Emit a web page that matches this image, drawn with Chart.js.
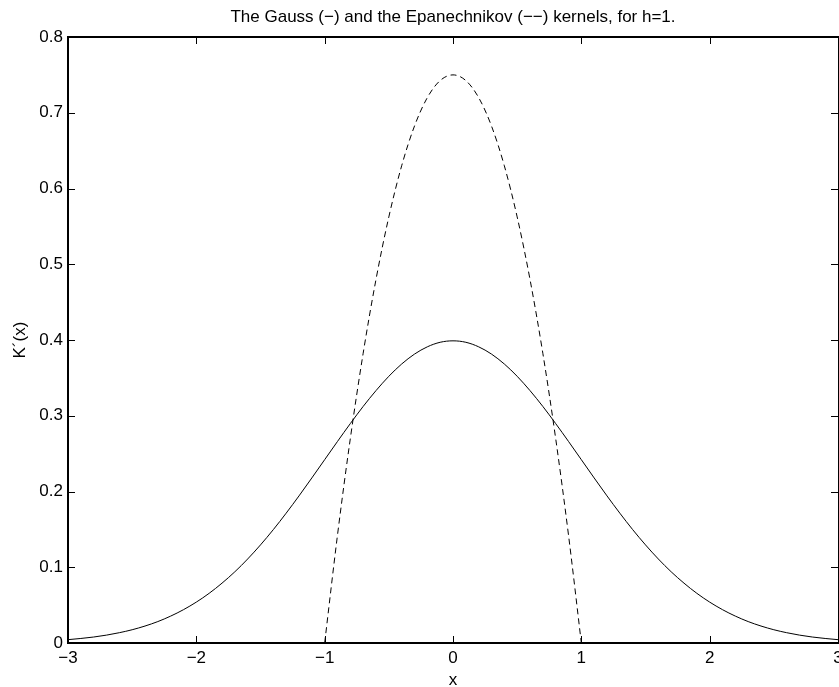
<!DOCTYPE html>
<html>
<head>
<meta charset="utf-8">
<script src="https://cdn.jsdelivr.net/npm/chart.js@4/dist/chart.umd.min.js"></script>
<style>
html,body{margin:0;padding:0;background:#fff;}
#wrap{width:839px;height:687px;position:relative;}
</style>
</head>
<body>
<div id="wrap"><canvas id="c" width="839" height="687"></canvas></div>
<script>
const titleText = 'The Gauss (\u2212) and the Epanechnikov (\u2212\u2212) kernels, for h=1.';
const xAxisLabel = 'x';
const yAxisLabel = 'K\u00b4(x)';
const xTicks = [-3, -2, -1, 0, 1, 2, 3];
const yTicks = [0, 0.1, 0.2, 0.3, 0.4, 0.5, 0.6, 0.7, 0.8];

const gaussX = [-3.0,-2.9,-2.8,-2.7,-2.6,-2.5,-2.4,-2.3,-2.2,-2.1,-2.0,-1.9,-1.8,-1.7,-1.6,-1.5,-1.4,-1.3,-1.2,-1.1,-1.0,-0.9,-0.8,-0.7,-0.6,-0.5,-0.4,-0.3,-0.2,-0.1,0.0,0.1,0.2,0.3,0.4,0.5,0.6,0.7,0.8,0.9,1.0,1.1,1.2,1.3,1.4,1.5,1.6,1.7,1.8,1.9,2.0,2.1,2.2,2.3,2.4,2.5,2.6,2.7,2.8,2.9,3.0];
const gaussY = [0.0044,0.0060,0.0079,0.0104,0.0136,0.0175,0.0224,0.0283,0.0355,0.0440,0.0540,0.0656,0.0790,0.0940,0.1109,0.1295,0.1497,0.1714,0.1942,0.2179,0.2420,0.2661,0.2897,0.3123,0.3332,0.3521,0.3683,0.3814,0.3910,0.3970,0.3989,0.3970,0.3910,0.3814,0.3683,0.3521,0.3332,0.3123,0.2897,0.2661,0.2420,0.2179,0.1942,0.1714,0.1497,0.1295,0.1109,0.0940,0.0790,0.0656,0.0540,0.0440,0.0355,0.0283,0.0224,0.0175,0.0136,0.0104,0.0079,0.0060,0.0044];

const epanX = [-1.0,-0.9,-0.8,-0.7,-0.6,-0.5,-0.4,-0.3,-0.2,-0.1,0.0,0.1,0.2,0.3,0.4,0.5,0.6,0.7,0.8,0.9,1.0];
const epanY = [0,0.1425,0.27,0.3825,0.48,0.5625,0.63,0.6825,0.72,0.7425,0.75,0.7425,0.72,0.6825,0.63,0.5625,0.48,0.3825,0.27,0.1425,0];

const FAMILY = '"Liberation Sans", Arial, Helvetica, sans-serif';
const FONT = {family: FAMILY, size: 17};

const frameTicks = {
  id: 'frameTicks',
  afterDraw(chart) {
    const {ctx, chartArea: a, scales} = chart;
    ctx.save();
    ctx.strokeStyle = '#000';
    const L = Math.round(a.left), R = Math.round(a.right);
    const T = Math.round(a.top), B = Math.round(a.bottom);
    ctx.lineWidth = 2;
    ctx.beginPath();
    ctx.rect(L, T, R + 1 - L, B - T);
    ctx.stroke();
    ctx.lineWidth = 1;
    ctx.beginPath();
    const tl = 7;
    xTicks.forEach(v => {
      const px = Math.round(scales.x.getPixelForValue(v)) + 0.5;
      ctx.moveTo(px, B); ctx.lineTo(px, B - tl);
      ctx.moveTo(px, T); ctx.lineTo(px, T + tl);
    });
    yTicks.forEach(v => {
      const py = Math.round(scales.y.getPixelForValue(v)) + 0.5;
      ctx.moveTo(L, py); ctx.lineTo(L + tl, py);
      ctx.moveTo(R, py); ctx.lineTo(R - tl, py);
    });
    ctx.stroke();
    ctx.restore();
  }
};

new Chart(document.getElementById('c'), {
  type: 'line',
  data: {
    datasets: [
      {
        label: 'Gauss',
        data: gaussX.map((x, i) => ({x, y: gaussY[i]})),
        borderColor: '#000', borderWidth: 1, pointRadius: 0,
        cubicInterpolationMode: 'monotone', fill: false
      },
      {
        label: 'Epanechnikov',
        data: epanX.map((x, i) => ({x, y: epanY[i]})),
        borderColor: '#000', borderWidth: 1, pointRadius: 0,
        borderDash: [6, 4], cubicInterpolationMode: 'monotone', fill: false
      }
    ]
  },
  options: {
    responsive: false,
    animation: false,
    devicePixelRatio: 1,
    layout: {padding: {top: 0, left: 0, right: 1, bottom: 0}},
    plugins: {
      legend: {display: false},
      tooltip: {enabled: false},
      title: {
        display: true, text: titleText, color: '#000', fullSize: false,
        font: {family: FAMILY, size: 17, weight: 'normal', lineHeight: 1.2},
        padding: {top: 7, bottom: 9.6}
      }
    },
    scales: {
      x: {
        type: 'linear', min: -3, max: 3,
        afterBuildTicks: s => { s.ticks = xTicks.map(v => ({value: v})); },
        afterFit: s => { s.height = 44; s.paddingLeft = 0; s.paddingRight = 0; },
        grid: {display: false, drawTicks: false},
        border: {display: false},
        ticks: {
          color: '#000', font: FONT, padding: 5, maxRotation: 0,
          callback: v => (v < 0 ? '\u2212' + Math.abs(v) : String(v))
        },
        title: {display: true, text: xAxisLabel, color: '#000',
          font: {family: FAMILY, size: 17, lineHeight: 1}, padding: {top: 0, bottom: -1.5}}
      },
      y: {
        type: 'linear', min: 0, max: 0.8,
        afterBuildTicks: s => { s.ticks = yTicks.map(v => ({value: v})); },
        afterFit: s => { s.width = 68; s.paddingTop = 0; s.paddingBottom = 0; },
        grid: {display: false, drawTicks: false},
        border: {display: false},
        ticks: {
          color: '#000', font: FONT, padding: 5,
          callback: v => (Math.round(v * 10) / 10).toString()
        },
        title: {display: true, text: yAxisLabel, color: '#000', font: FONT, padding: {top: 10, bottom: 0}}
      }
    }
  },
  plugins: [frameTicks]
});
</script>
</body>
</html>
